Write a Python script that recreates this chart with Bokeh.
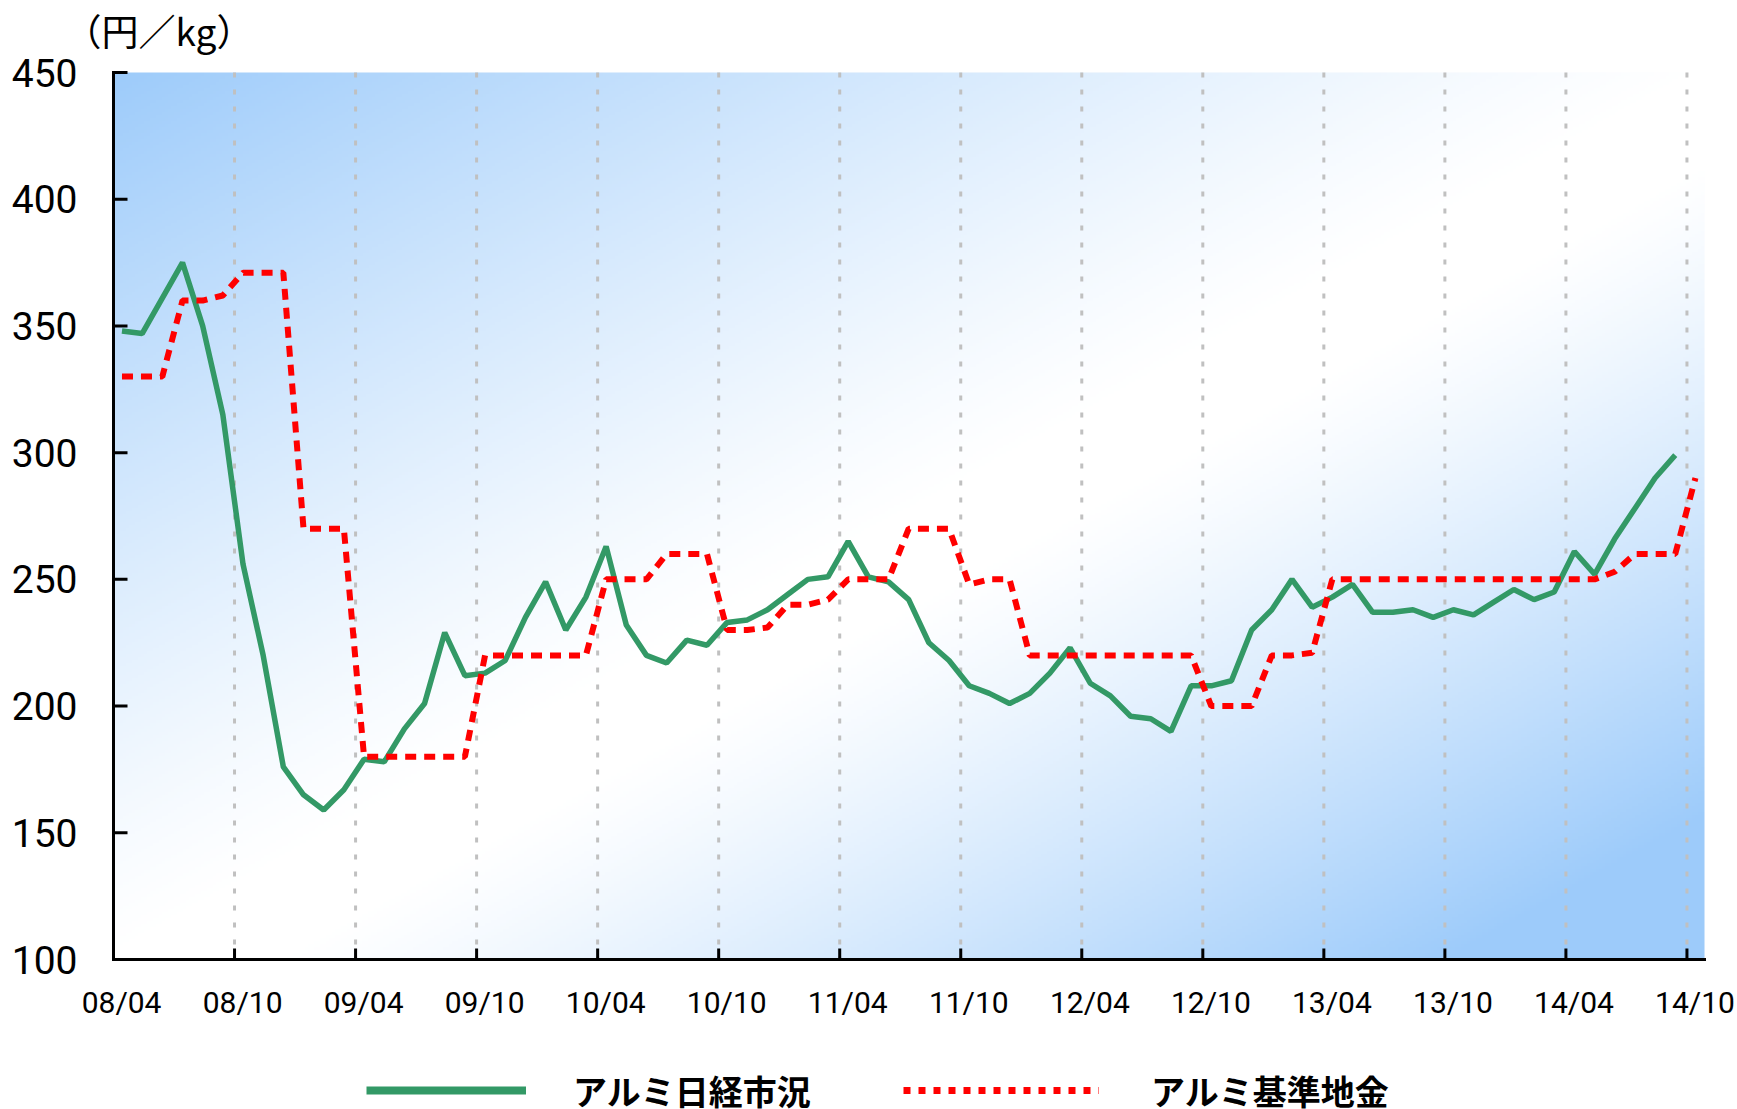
import numpy as np
from bokeh.plotting import figure
from bokeh.models import Range1d, Legend, LegendItem, Grid
from bokeh.core.properties import value
from bokeh.embed import file_html
from bokeh.resources import INLINE

# ---- data -------------------------------------------------------------
tick_labels = ["08/04", "08/10", "09/04", "09/10", "10/04", "10/10", "11/04",
               "11/10", "12/04", "12/10", "13/04", "13/10", "14/04", "14/10"]
tick_months = [0, 6, 12, 18, 24, 30, 36, 42, 48, 54, 60, 66, 72, 78]
y_ticks = [100, 150, 200, 250, 300, 350, 400, 450]
y_tick_labels = ["100", "150", "200", "250", "300", "350", "400", "450"]

# monthly values, 2008/04 ...
nikkei = [348, 347, 361, 375, 350, 315, 256, 220, 176, 165,
          159, 167, 179, 178, 191, 201, 229, 212, 213, 218,
          235, 249, 230, 243, 263, 232, 220, 217, 226, 224,
          233, 234, 238, 244, 250, 251, 265, 251, 249, 242,
          225, 218, 208, 205, 201, 205, 213, 223, 209, 204,
          196, 195, 190, 208, 208, 210, 230, 238, 250, 239,
          243, 248, 237, 237, 238, 235, 238, 236, 241, 246,
          242, 245, 261, 252, 266, 278, 290, 299]

kijun = [330, 330, 330, 360, 360, 362, 371, 371, 371, 270,
         270, 270, 180, 180, 180, 180, 180, 180, 220, 220,
         220, 220, 220, 220, 250, 250, 250, 260, 260, 260,
         230, 230, 231, 240, 240, 242, 250, 250, 250, 270,
         270, 270, 248, 250, 250, 220, 220, 220, 220, 220,
         220, 220, 220, 220, 200, 200, 200, 220, 220, 221,
         250, 250, 250, 250, 250, 250, 250, 250, 250, 250,
         250, 250, 250, 250, 253, 260, 260, 260, 290]

series_names = ["アルミ日経市況", "アルミ基準地金"]
unit_label = "（円／kg）"

MID = 0.42  # each monthly value sits inside its month
nikkei_x = [i + MID for i in range(len(nikkei))]
kijun_x = [i + MID for i in range(len(kijun))]

# plot-area extent (data units)
X0, X1 = 0, 78.87
Y0, Y1 = 100, 450

# ---- geometry -----------------------------------------------------------
W, H = 1737, 1109
LEFT, TOP = 113, 72          # plot-area top-left on the page
AREA_W, AREA_H = 1591, 887   # plot-area size in px
px_x = AREA_W / (X1 - X0)
px_y = AREA_H / (Y1 - Y0)
# the frame covers the whole canvas; axes, labels and legend are drawn inside it
XL = X0 - LEFT / px_x
XR = X1 + (W - LEFT - AREA_W) / px_x
YT = Y1 + TOP / px_y
YB = Y0 - (H - TOP - AREA_H) / px_y

p = figure(width=W, height=H, output_backend="svg", toolbar_location=None,
           title=None, x_axis_location=None, y_axis_location=None,
           x_range=Range1d(XL, XR), y_range=Range1d(YB, YT), min_border=0)
p.outline_line_color = None
p.background_fill_color = "white"
p.border_fill_color = "white"
for r in p.center:
    if isinstance(r, Grid):
        r.visible = False

# diagonal blue-white-blue background of the plot area
GW, GH = 530, 296
u = np.linspace(0, 1, GW)[None, :]
v = np.linspace(0, 1, GH)[:, None]
t = (u + v) / 2
f = np.where(t < 0.5, np.clip((0.5 - t) / 0.5, 0, 1) ** 1.2,
             np.clip((t - 0.55) / 0.37, 0, 1) ** 1.2)
blue = np.array([157, 203, 250], dtype=float)
rgb = 255 - (255 - blue)[None, None, :] * f[..., None]
img = np.zeros((GH, GW), dtype=np.uint32)
view = img.view(dtype=np.uint8).reshape((GH, GW, 4))
view[..., :3] = np.round(rgb[::-1]).astype(np.uint8)
view[..., 3] = 255
p.image_rgba(image=[img], x=X0, y=Y0, dw=X1 - X0, dh=Y1 - Y0, level="image")

# vertical dotted grid at the half-year ticks
grid_x = tick_months[1:]
p.segment(x0=grid_x, y0=[Y1] * len(grid_x), x1=grid_x, y1=[Y0] * len(grid_x),
          line_color="#c0c0c0", line_width=3, line_dash="5 12")

# y axis: line, inward ticks, labels
p.segment(x0=[X0], y0=[Y0], x1=[X0], y1=[Y1], line_color="black",
          line_width=3, line_cap="square")
p.ray(x=[X0] * len(y_ticks), y=y_ticks, length=14, length_units="screen",
      angle=0, line_color="black", line_width=3)
p.text(x=[X0] * len(y_ticks), y=y_ticks, text=y_tick_labels,
       text_font=value("Roboto"), text_font_size="39px", text_color="black",
       text_align="right", text_baseline="middle", x_offset=-36)

# x axis: line, inward ticks, labels
p.segment(x0=[X0], y0=[Y0], x1=[X1], y1=[Y0], line_color="black",
          line_width=3, line_cap="square")
p.ray(x=tick_months, y=[Y0] * len(tick_months), length=11, length_units="screen",
      angle=90, angle_units="deg", line_color="black", line_width=3)
LABEL_SHIFT = 0.4
p.text(x=[m + LABEL_SHIFT for m in tick_months], y=[Y0] * len(tick_months),
       text=tick_labels, text_font=value("Roboto"), text_font_size="30px",
       text_color="black", text_align="center", text_baseline="alphabetic",
       y_offset=43)

# unit label above the y axis
p.text(x=[X0], y=[Y1], text=[unit_label], text_font=value("Noto Sans CJK JP"),
       text_font_size="37px", text_color="black", text_align="left",
       text_baseline="middle", x_offset=-49, y_offset=-43)

# lines
r_n = p.line(nikkei_x, nikkei, line_color="#339966", line_width=5.5)
r_k = p.line(kijun_x, kijun, line_color="#ff0000", line_width=6,
             line_dash="11 8")

# legend keys: drawn a little heavier than the plotted lines (no visible data)
NAN = float("nan")
key_n = p.line(x=[NAN], y=[NAN], line_color="#339966", line_width=8)
key_k = p.line(x=[NAN], y=[NAN], line_color="#ff0000", line_width=7,
               line_dash="7 8")

def make_legend(label, rend, x, gw, standoff):
    lg = Legend(items=[LegendItem(label=label, renderers=[rend])],
                location=(x, -6), orientation="horizontal",
                glyph_width=gw, glyph_height=50, label_height=50,
                label_standoff=standoff, padding=0, margin=0, spacing=0,
                border_line_color=None, background_fill_alpha=0,
                label_text_font="Noto Sans CJK JP", label_text_font_style="bold",
                label_text_font_size="34px", label_text_color="black")
    p.add_layout(lg, "center")

make_legend(series_names[0], key_n, 366, 160, 47)
make_legend(series_names[1], key_k, 903, 196, 52)

open("out.html", "w").write(file_html(p, INLINE))
